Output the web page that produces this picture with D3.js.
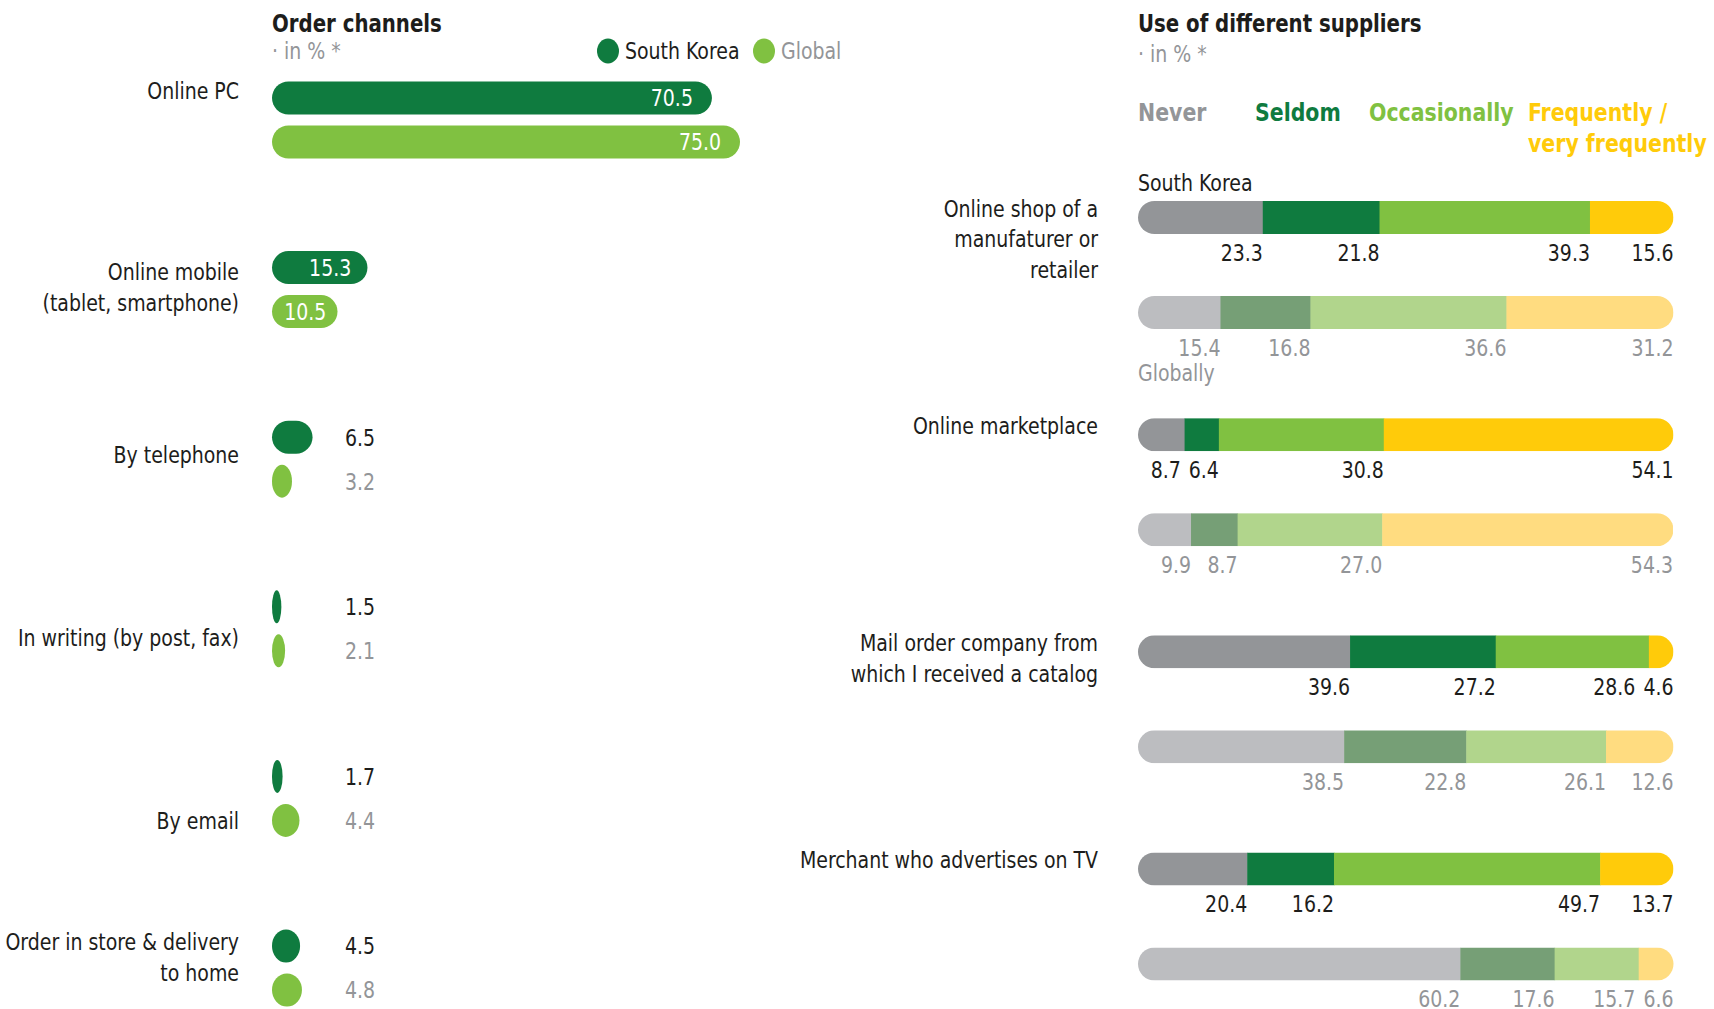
<!DOCTYPE html>
<html>
<head>
<meta charset="utf-8">
<script src="https://cdn.jsdelivr.net/npm/d3@7"></script>
<style>
  html, body { margin: 0; padding: 0; background: #fff; }
  svg { display: block; }
  .cond { font-family: 'Liberation Sans Narrow', 'DejaVu Sans Condensed', 'Roboto Condensed', sans-serif; font-stretch: condensed; }
</style>
</head>
<body>
<svg id="chart" width="1714" height="1009"></svg>
<script>
// ---------- data: order channels ----------
const channels = [
  "Online PC",
  "Online mobile\n(tablet, smartphone)",
  "By telephone",
  "In writing (by post, fax)",
  "By email",
  "Order in store & delivery\nto home"
];
const channelKorea  = [70.5, 15.3, 6.5, 1.5, 1.7, 4.5];
const channelGlobal = [75.0, 10.5, 3.2, 2.1, 4.4, 4.8];

// ---------- data: use of different suppliers ----------
const suppliers = [
  "Online shop of a\nmanufaturer or\nretailer",
  "Online marketplace",
  "Mail order company from\nwhich I received a catalog",
  "Merchant who advertises on TV"
];
const frequencies = ["Never", "Seldom", "Occasionally", "Frequently /\nvery frequently"];
const supplierKorea = [
  [23.3, 21.8, 39.3, 15.6],
  [8.7, 6.4, 30.8, 54.1],
  [39.6, 27.2, 28.6, 4.6],
  [20.4, 16.2, 49.7, 13.7]
];
const supplierGlobal = [
  [15.4, 16.8, 36.6, 31.2],
  [9.9, 8.7, 27.0, 54.3],
  [38.5, 22.8, 26.1, 12.6],
  [60.2, 17.6, 15.7, 6.6]
];

// ---------- palette ----------
const koreaGreen = "#0f7b3f";
const globalGreen = "#80c141";
const freqKorea  = ["#939598", "#0f7b3f", "#80c141", "#ffcb0a"];
const freqGlobal = ["#bcbdc0", "#769f76", "#b1d58c", "#ffdc80"];
const textDark = "#1d1d1b";
const textGrey = "#939598";

const svg = d3.select("#chart");
const barH = 33;
const lineH = 30.5;
const SX = 0.915;           // horizontal squeeze for the condensed lettering
const fmt = d3.format(".1f");

// text helper: condensed lettering, optional multiple lines, vertically centred on y
function txt(g, str, x, y, o = {}) {
  const sx = o.sx || SX;
  const t = g.append("text").attr("class", "cond")
    .attr("transform", `translate(${x},${y}) scale(${sx},1)`)
    .attr("dominant-baseline", "central")
    .attr("text-anchor", o.anchor || "start")
    .attr("font-size", o.size || 23)
    .attr("font-weight", o.weight || null)
    .attr("fill", o.fill || textDark);
  str.split("\n").forEach((line, k) => {
    t.append("tspan").attr("x", 0).attr("y", k * lineH).text(line);
  });
  return t;
}

// ================= left panel: order channels =================
const left = svg.append("g");
const x0L = 272;
const xL = d3.scaleLinear().domain([0, 100]).range([0, 624]);
const yL = d3.scalePoint().domain(d3.range(channels.length)).range([98, 946]);
const pairGap = 44;
// where each label block sits relative to its two bars (0 = first bar, 1 = second bar)
const labelAnchor = [-0.17, 0.45, 0.4, 0.7, 1.0, 0.25];

txt(left, "Order channels", x0L, 24, {size: 24, weight: "bold"});
txt(left, "· in %  *", x0L, 51, {fill: textGrey});

// legend
const legendL = [
  {name: "South Korea", color: koreaGreen, text: textDark, x: 608},
  {name: "Global", color: globalGreen, text: textGrey, x: 764}
];
legendL.forEach(d => {
  left.append("ellipse").attr("cx", d.x).attr("cy", 51).attr("rx", 11).attr("ry", 12.5).attr("fill", d.color);
  txt(left, d.name, d.x + 17, 51, {fill: d.text});
});

channels.forEach((name, i) => {
  const cy = yL(i);
  const rows = [
    {v: channelKorea[i], color: koreaGreen, text: textDark, y: cy},
    {v: channelGlobal[i], color: globalGreen, text: textGrey, y: cy + pairGap}
  ];
  rows.forEach(r => {
    const w = xL(r.v);
    left.append("rect").attr("x", x0L).attr("y", r.y - barH / 2)
      .attr("width", w).attr("height", barH)
      .attr("rx", barH / 2).attr("ry", barH / 2).attr("fill", r.color);
    if (r.v >= 10) {
      const pad = Math.min(19, w * 0.17);
      txt(left, fmt(r.v), x0L + w - pad, r.y, {anchor: "end", fill: "#fff"});
    } else {
      txt(left, fmt(r.v), 345, r.y, {fill: r.text});
    }
  });
  const lines = name.split("\n").length;
  const mid = cy + labelAnchor[i] * pairGap;
  txt(left, name, 239, mid - (lines - 1) * lineH / 2, {anchor: "end"});
});

// ================= right panel: use of different suppliers =================
const right = svg.append("g");
const xR = d3.scaleLinear().domain([0, 100]).range([1138, 1673.5]);
const yR = d3.scalePoint().domain(d3.range(suppliers.length)).range([217.5, 869]);
const globalGap = 95;
const valueGap = 35;

txt(right, "Use of different suppliers", xR(0), 24, {size: 24, weight: "bold"});
txt(right, "· in %  *", xR(0), 54, {fill: textGrey});

// frequency legend
const legendX = [1138, 1255, 1369, 1528];
frequencies.forEach((f, k) => {
  txt(right, f, legendX[k], 113, {size: 24, weight: "bold", fill: freqKorea[k], sx: 0.95});
});

txt(right, "South Korea", xR(0), 183);

const defs = svg.append("defs");

function stackedBar(values, colors, textColor, cy, id) {
  const ends = Array.from(d3.cumsum(values));
  const starts = [0, ...ends.slice(0, -1)];
  defs.append("clipPath").attr("id", id)
    .append("rect").attr("x", xR(0)).attr("y", cy - barH / 2)
    .attr("width", xR(100) - xR(0)).attr("height", barH)
    .attr("rx", barH / 2).attr("ry", barH / 2);
  const g = right.append("g").attr("clip-path", `url(#${id})`);
  values.forEach((v, k) => {
    g.append("rect").attr("x", xR(starts[k])).attr("y", cy - barH / 2)
      .attr("width", xR(ends[k]) - xR(starts[k]) + (k < values.length - 1 ? 0.5 : 0))
      .attr("height", barH).attr("fill", colors[k]);
  });
  // value labels end at their segment's right edge, nudged left when they would collide
  let limit = xR(100);
  for (let k = values.length - 1; k >= 0; k--) {
    const xe = Math.min(xR(ends[k]), limit);
    const t = txt(right, fmt(values[k]), xe, cy + valueGap, {anchor: "end", fill: textColor});
    const w = t.node().getComputedTextLength() * SX;
    limit = xe - w - 8;
  }
}

suppliers.forEach((name, i) => {
  const cy = yR(i);
  stackedBar(supplierKorea[i], freqKorea, textDark, cy, "clipK" + i);
  stackedBar(supplierGlobal[i], freqGlobal, textGrey, cy + globalGap, "clipG" + i);
  txt(right, name, 1098, cy - 9, {anchor: "end"});
});

txt(right, "Globally", xR(0), yR(0) + globalGap + valueGap + 25, {fill: textGrey});
</script>
</body>
</html>
